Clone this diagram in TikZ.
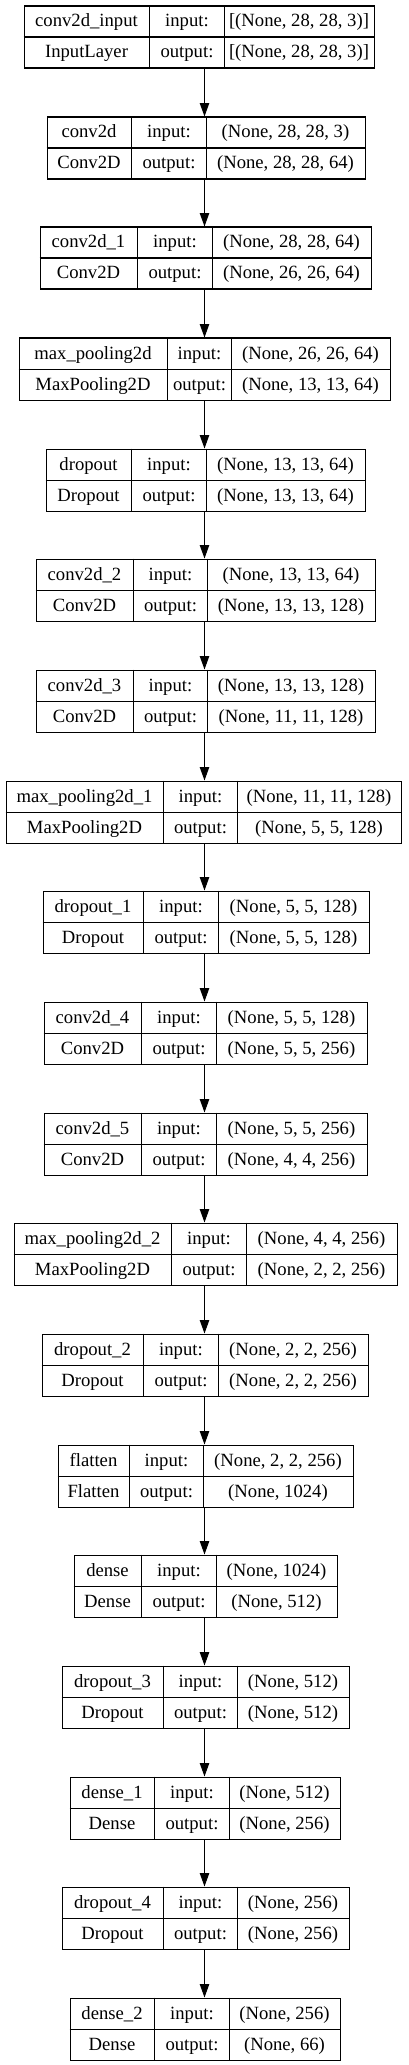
\documentclass[tikz,border=0pt]{standalone}
\usepackage{fontspec}
\setmainfont{Liberation Serif}
\newfontfamily\layerfont{Liberation Serif}
\usetikzlibrary{arrows.meta}
\tikzset{
  layerbox/.style={draw=black, line width=0.8pt, inner sep=0pt, anchor=north west, fill=white},
  cellline/.style={draw=black, line width=0.8pt},
  celltext/.style={inner sep=0pt, anchor=base, font=\layerfont\fontsize{14pt}{16pt}\selectfont, text=black},
  flow/.style={draw=black, line width=0.8pt, -{Triangle[length=10pt, width=7pt]}}
}
% #1 index, #2 left, #3 div1, #4 div2, #5 right, #6 name, #7 class, #8 input shape, #9 output shape
\newcommand\kerasLayer[9]{%
  \pgfmathsetmacro\ytop{round(5+#1*110.667)+0.5}%
  \pgfmathsetmacro\bw{(#5-#2)*0.75}%
  \node[layerbox, minimum width=\bw pt, minimum height=46.5pt] (L#1) at (#2.5,\ytop) {};
  \draw[cellline] (#3.5,\ytop) -- (#3.5,\ytop+62);
  \draw[cellline] (#4.5,\ytop) -- (#4.5,\ytop+62);
  \draw[cellline] (L#1.west) -- (L#1.east);
  \node[celltext] (L#1n) at ({(#2+#3)/2+0.5},\ytop+21.5) {#6};
  \node[celltext] (L#1c) at ({(#2+#3)/2+0.5},\ytop+52.5) {#7};
  \node[celltext] (L#1i) at ({(#3+#4)/2+0.5},\ytop+21.5) {input:};
  \node[celltext] (L#1o) at ({(#3+#4)/2+0.5},\ytop+52.5) {output:};
  \node[celltext] (L#1s) at ({(#4+#5)/2+0.5},\ytop+21.5) {#8};
  \node[celltext] (L#1t) at ({(#4+#5)/2+0.5},\ytop+52.5) {#9};
}
\begin{document}
\begin{tikzpicture}[x=0.75pt, y=-0.75pt]
\useasboundingbox (0,0) rectangle (409,2065);
\coordinate (ax) at (204.5,0);
\kerasLayer{0}{23}{149}{224}{373}{conv2d\_input}{InputLayer}{[(None, 28, 28, 3)]}{[(None, 28, 28, 3)]}
\kerasLayer{1}{46}{131}{206}{364}{conv2d}{Conv2D}{(None, 28, 28, 3)}{(None, 28, 28, 64)}
\kerasLayer{2}{39}{137}{212}{370}{conv2d\_1}{Conv2D}{(None, 28, 28, 64)}{(None, 26, 26, 64)}
\kerasLayer{3}{18}{167}{231}{389}{max\_pooling2d}{MaxPooling2D}{(None, 26, 26, 64)}{(None, 13, 13, 64)}
\kerasLayer{4}{45}{131}{206}{364}{dropout}{Dropout}{(None, 13, 13, 64)}{(None, 13, 13, 64)}
\kerasLayer{5}{35}{133}{207}{374}{conv2d\_2}{Conv2D}{(None, 13, 13, 64)}{(None, 13, 13, 128)}
\kerasLayer{6}{35}{133}{207}{374}{conv2d\_3}{Conv2D}{(None, 13, 13, 128)}{(None, 11, 11, 128)}
\kerasLayer{7}{5}{163}{237}{400}{max\_pooling2d\_1}{MaxPooling2D}{(None, 11, 11, 128)}{(None, 5, 5, 128)}
\kerasLayer{8}{42}{143}{218}{368}{dropout\_1}{Dropout}{(None, 5, 5, 128)}{(None, 5, 5, 128)}
\kerasLayer{9}{43}{141}{216}{366}{conv2d\_4}{Conv2D}{(None, 5, 5, 128)}{(None, 5, 5, 256)}
\kerasLayer{10}{43}{141}{216}{366}{conv2d\_5}{Conv2D}{(None, 5, 5, 256)}{(None, 4, 4, 256)}
\kerasLayer{11}{13}{171}{246}{396}{max\_pooling2d\_2}{MaxPooling2D}{(None, 4, 4, 256)}{(None, 2, 2, 256)}
\kerasLayer{12}{41}{143}{218}{367}{dropout\_2}{Dropout}{(None, 2, 2, 256)}{(None, 2, 2, 256)}
\kerasLayer{13}{57}{129}{203}{352}{flatten}{Flatten}{(None, 2, 2, 256)}{(None, 1024)}
\kerasLayer{14}{73}{141}{216}{336}{dense}{Dense}{(None, 1024)}{(None, 512)}
\kerasLayer{15}{61}{163}{237}{348}{dropout\_3}{Dropout}{(None, 512)}{(None, 512)}
\kerasLayer{16}{69}{154}{229}{339}{dense\_1}{Dense}{(None, 512)}{(None, 256)}
\kerasLayer{17}{61}{163}{237}{348}{dropout\_4}{Dropout}{(None, 256)}{(None, 256)}
\kerasLayer{18}{69}{154}{229}{339}{dense\_2}{Dense}{(None, 256)}{(None, 66)}
\foreach \i [evaluate=\i as \j using int(\i+1)] in {0,...,17} {
  \draw[flow] (L\i.south -| ax) -- (L\j.north -| ax);
}
\end{tikzpicture}
\end{document}
